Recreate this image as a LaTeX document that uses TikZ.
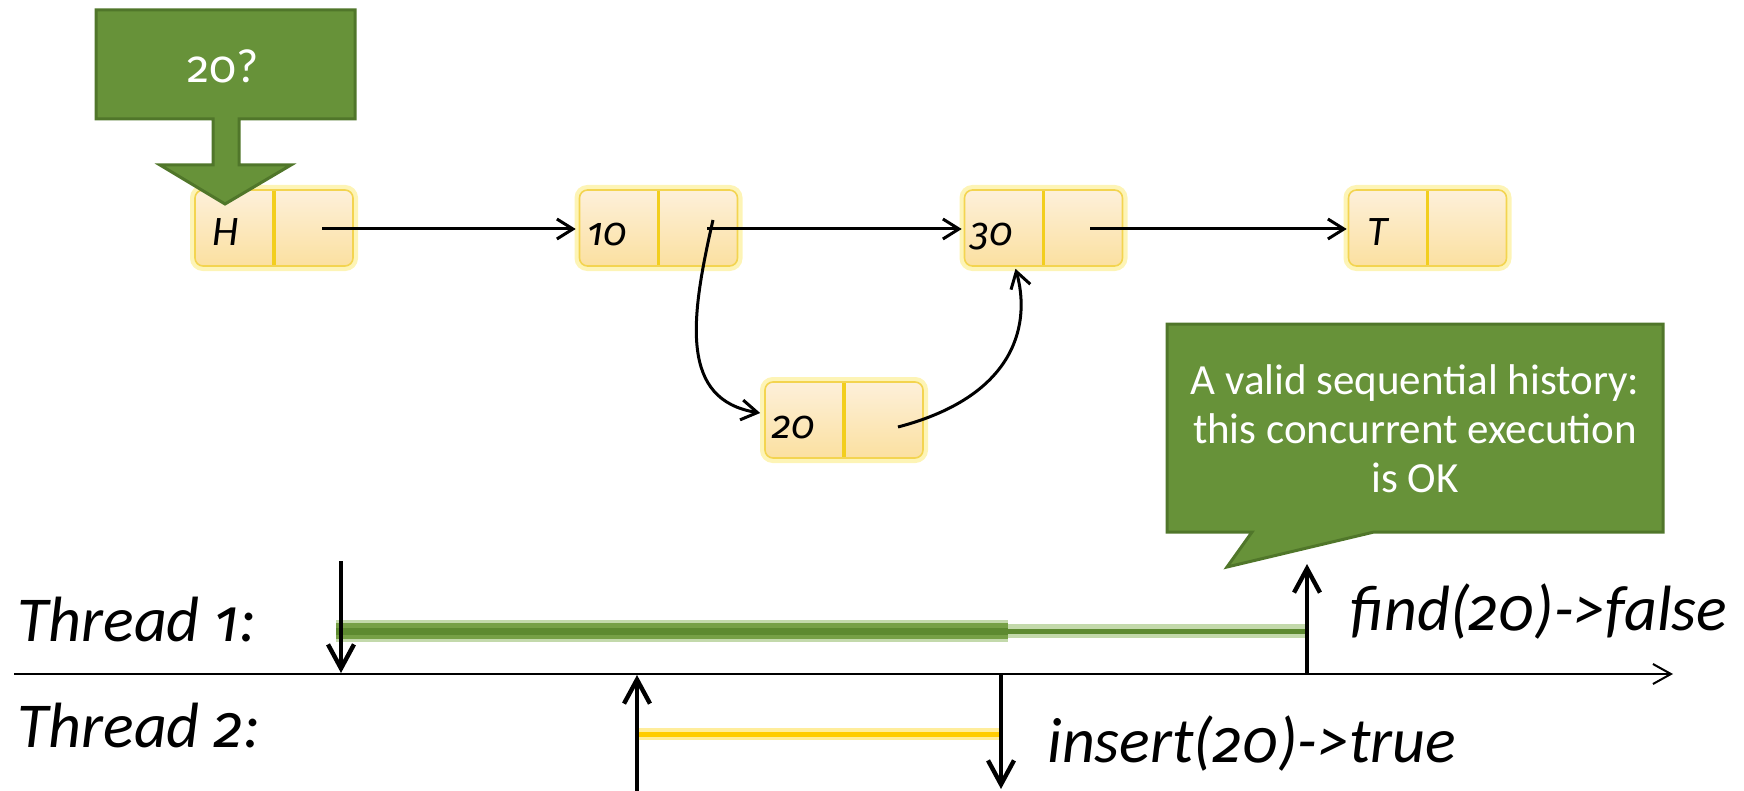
\documentclass[tikz,border=0pt]{standalone}
\usepackage{fontspec}
\setmainfont{Carlito}
\newfontfamily\onum{Fira Sans}[Numbers=OldStyle, Scale=0.93]
\usetikzlibrary{arrows.meta,calc}
\definecolor{cgreen}{RGB}{103,146,57}
\definecolor{cgreenline}{RGB}{80,118,42}
\definecolor{ntop}{RGB}{253,240,218}
\definecolor{nbot}{RGB}{251,224,160}
\definecolor{nborder}{RGB}{243,212,80}
\definecolor{nglow}{RGB}{252,234,110}
\definecolor{ndiv}{RGB}{242,206,30}
\definecolor{bardark}{RGB}{93,138,48}
\definecolor{barmid}{RGB}{118,160,70}
\definecolor{barglow}{RGB}{180,208,150}
\definecolor{colYellowBar}{RGB}{255,204,0}
\definecolor{colYellowGlow}{RGB}{255,232,130}
\tikzset{
  listbox/.style={rounded corners=4pt, minimum width=79pt, minimum height=38pt,
    inner sep=0pt, top color=ntop, bottom color=nbot, draw=nborder, line width=0.8pt,
    preaction={draw=nglow, line width=5pt, opacity=0.5},
    path picture={\draw[ndiv, line width=1.6pt] (path picture bounding box.north) -- (path picture bounding box.south);}},
  keylbl/.style={font=\fontsize{21}{24}\selectfont\itshape, anchor=base, inner sep=0pt},
  ptr/.style={line width=1.5pt, -{Straight Barb[length=8pt,width=10pt]}},
  callshape/.style={fill=cgreen, draw=cgreenline, line width=1.5pt, line join=miter},
  calltext/.style={text=white, inner sep=0pt, align=center},
  evt/.style={line width=2.2pt, -{Straight Barb[length=12pt,width=13pt]}},
  axis/.style={line width=1pt, -{Straight Barb[length=9pt,width=10pt]}},
  tlbl/.style={font=\fontsize{32}{38}\selectfont\itshape, anchor=base west, inner sep=0pt},
}
\begin{document}
\begin{tikzpicture}[x=0.5pt,y=-0.5pt]
\useasboundingbox (0,0) rectangle (1744,791);

% list nodes
\node[listbox] (nH)  at (274,228) {};
\node[listbox] (n10) at (658.5,228) {};
\node[listbox] (n30) at (1043.5,228) {};
\node[listbox] (nT)  at (1427.5,228) {};
\node[listbox] (n20) at (844,420) {};

\node[keylbl] (tH)  at (226,246) {H};
\node[keylbl] (t10) at (607,246) {\onum 10};
\node[keylbl] (t30) at (992,246) {\onum 30};
\node[keylbl] (tT)  at (1378,246) {T};
\node[keylbl] (t20) at (794,438) {\onum 20};

% pointer origins
\coordinate (pH)  at (322,229);
\coordinate (p10) at (707,229);
\coordinate (p10b) at (713,220);
\coordinate (p30) at (1090,229);
\coordinate (p20) at (898,427);

\draw[ptr] (pH) -- ([xshift=-1.5pt]n10.west |- pH);
\draw[ptr] (p10) -- ([xshift=-1pt]n30.west |- p10);
\draw[ptr] (p30) -- ([xshift=-0.5pt]nT.west |- p30);
\draw[ptr] (p10b) .. controls (690,320) and (680,400) .. ([yshift=3.5pt,xshift=-2pt]n20.west);
\draw[ptr] (p20) .. controls (1020,395) and (1030,320) .. ([xshift=-14pt,yshift=-1pt]n30.south);

% "20?" down-arrow callout
\draw[callshape] (96,10) -- (355,10) -- (355,119) -- (239,119) -- (239,165) -- (291,165)
  -- (225,204) -- (160,165) -- (213,165) -- (213,119) -- (96,119) -- cycle;
\node[calltext, font=\fontsize{24}{28}\selectfont, anchor=base] (q20) at (223,83) {{\onum 20}?};

% speech callout
\draw[callshape] (1167,324) -- (1663,324) -- (1663,532) -- (1374,532) -- (1227,567)
  -- (1252,532) -- (1167,532) -- cycle;
\node[calltext, font=\fontsize{21.5}{24.5}\selectfont] (ctext) at (1415,429)
  {A valid sequential history:\\this concurrent execution\\is OK};

% timeline
\coordinate (ax0) at (14,674);
\coordinate (ax1) at (1673,674);
\draw[axis] (ax0) -- (ax1);

\coordinate (b1s) at (336,631);
\coordinate (b1m) at (1008,631);
\coordinate (b1e) at (1309,631);
\draw[barglow, line width=11pt, opacity=0.8] (b1s) -- (b1m);
\draw[barmid, line width=8pt] (b1s) -- (b1m);
\draw[bardark, line width=3.5pt] (b1s) -- (b1m);
\draw[barglow, line width=7pt, opacity=0.8] (b1m) -- (b1e);
\draw[bardark, line width=2.5pt] (b1m) -- (b1e);

\coordinate (b2s) at (637,734);
\coordinate (b2e) at (1002,734);
\draw[draw=colYellowGlow, line width=6pt, opacity=0.8] (b2s) -- (b2e);
\draw[draw=colYellowBar, line width=2.5pt] (b2s) -- (b2e);

\coordinate (e1a) at (341,561);
\coordinate (e1b) at (341,673);
\coordinate (e2a) at (1307,674);
\coordinate (e2b) at (1307,564);
\coordinate (e3a) at (637,795);
\coordinate (e3b) at (637,675);
\coordinate (e4a) at (1001,674);
\coordinate (e4b) at (1001,789);
\draw[evt] (e1a) -- (e1b);
\draw[evt] (e2a) -- (e2b);
\draw[evt] (e3a) -- (e3b);
\draw[evt] (e4a) -- (e4b);

\node[tlbl] (th1) at (17,641) {Thread {\onum 1}:};
\node[tlbl] (th2) at (17,747) {Thread {\onum 2}:};
\node[tlbl] (op1) at (1350,630) {find({\onum 20})->false};
\node[tlbl] (op2) at (1047,762) {insert({\onum 20})->true};
\end{tikzpicture}
\end{document}
